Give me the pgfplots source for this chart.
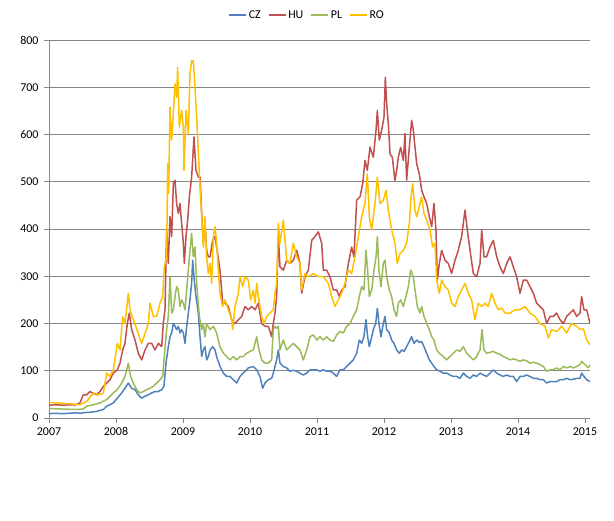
\documentclass[border=0pt]{standalone}
\usepackage{fontspec}
\setmainfont{Carlito}
\usepackage{pgfplots}
\pgfplotsset{compat=1.18}
\definecolor{cz}{HTML}{4F81BD}
\definecolor{hu}{HTML}{C0504D}
\definecolor{pl}{HTML}{9BBB59}
\definecolor{ro}{HTML}{FFC000}
\definecolor{gridc}{HTML}{868686}
\begin{document}
\begin{tikzpicture}
\path[use as bounding box] (0,0) rectangle (614bp,521bp);
\begin{axis}[
  at={(49bp,103bp)}, anchor=south west,
  scale only axis, width=541bp, height=378bp,
  xmin=2007, xmax=2015.075, ymin=0, ymax=800,
  axis x line*=bottom, axis y line*=left,
  axis line style={gridc, line width=0.8bp},
  xtick={2007,2008,...,2015}, ytick={0,100,...,800},
  tick align=outside, major tick length=5bp,
  tick style={gridc, line width=0.8bp},
  ymajorgrids, grid style={gridc, line width=0.8bp},
  /pgf/number format/1000 sep={},
  /pgf/number format/assume math mode=true,
  tick label style={font=\fontsize{12}{14}\selectfont},
  xticklabel style={yshift=-1bp},
  yticklabel style={xshift=-2bp},
  every axis plot/.append style={line width=1.5bp, line join=round},
  legend columns=4,
  legend style={at={(0.477,1.066)}, anchor=center, draw=none, fill=none,
    font=\fontsize{12}{14}\selectfont, inner sep=1bp,
    /tikz/every even column/.append style={column sep=5bp}},
  legend image code/.code={\draw[#1] (0bp,0bp) -- (17bp,0bp);},
]
\addplot[cz] coordinates {
(2007.000,9) (2007.100,10) (2007.200,9) (2007.300,10) (2007.400,11) (2007.463,10)
(2007.562,12) (2007.612,12) (2007.711,14) (2007.811,18) (2007.861,25) (2007.910,28)
(2007.960,32) (2008.020,42) (2008.085,53) (2008.134,63) (2008.184,74) (2008.234,63)
(2008.284,60) (2008.333,49) (2008.383,42) (2008.433,46) (2008.483,49) (2008.532,53)
(2008.582,56) (2008.632,56) (2008.682,60) (2008.716,67) (2008.746,116) (2008.781,151)
(2008.806,172) (2008.831,180) (2008.856,200) (2008.881,194) (2008.905,187) (2008.930,194)
(2008.955,180) (2008.980,187) (2009.005,180) (2009.030,158) (2009.055,194) (2009.080,222)
(2009.104,250) (2009.129,285) (2009.144,334) (2009.164,299) (2009.194,257) (2009.229,222)
(2009.254,172) (2009.279,130) (2009.303,144) (2009.328,151) (2009.353,123) (2009.378,130)
(2009.403,144) (2009.443,151) (2009.478,144) (2009.502,130) (2009.552,109) (2009.602,95)
(2009.652,88) (2009.701,88) (2009.751,81) (2009.801,74) (2009.851,88) (2009.900,95)
(2009.950,102) (2009.975,106) (2010.050,109) (2010.100,102) (2010.149,88) (2010.189,63)
(2010.224,74) (2010.274,81) (2010.323,84) (2010.348,95) (2010.373,109) (2010.398,123)
(2010.423,144) (2010.448,116) (2010.498,109) (2010.547,106) (2010.597,99) (2010.647,101)
(2010.697,99) (2010.746,95) (2010.796,91) (2010.846,95) (2010.896,102) (2010.945,102)
(2010.995,102) (2011.045,99) (2011.095,102) (2011.144,99) (2011.194,99) (2011.244,95)
(2011.294,88) (2011.343,102) (2011.393,102) (2011.443,109) (2011.493,116) (2011.542,123)
(2011.592,137) (2011.632,165) (2011.667,158) (2011.701,172) (2011.731,208) (2011.756,172)
(2011.781,151) (2011.816,172) (2011.841,187) (2011.876,200) (2011.901,232) (2011.925,200)
(2011.955,172) (2011.990,200) (2012.015,215) (2012.040,187) (2012.080,180) (2012.114,165)
(2012.149,158) (2012.189,144) (2012.229,137) (2012.264,144) (2012.299,141) (2012.338,151)
(2012.378,162) (2012.413,172) (2012.448,158) (2012.488,165) (2012.527,160) (2012.562,162)
(2012.597,151) (2012.637,137) (2012.677,123) (2012.712,116) (2012.746,109) (2012.786,102)
(2012.836,99) (2012.886,95) (2012.935,95) (2012.985,91) (2013.035,88) (2013.085,88)
(2013.134,84) (2013.184,95) (2013.234,88) (2013.284,84) (2013.333,91) (2013.383,88)
(2013.433,95) (2013.483,91) (2013.532,88) (2013.582,95) (2013.632,102) (2013.682,95)
(2013.731,91) (2013.781,88) (2013.831,91) (2013.881,88) (2013.930,88) (2013.980,77)
(2014.030,88) (2014.080,88) (2014.129,91) (2014.179,88) (2014.229,84) (2014.279,84)
(2014.328,81) (2014.378,81) (2014.428,74) (2014.478,77) (2014.527,77) (2014.577,77)
(2014.627,81) (2014.677,81) (2014.726,84) (2014.776,81) (2014.826,82) (2014.876,84)
(2014.925,84) (2014.950,95) (2014.985,88) (2015.025,81) (2015.075,77)
};
\addlegendentry{CZ}
\addplot[hu] coordinates {
(2007.000,27) (2007.100,28) (2007.200,27) (2007.300,28) (2007.400,28) (2007.463,32)
(2007.512,49) (2007.562,49) (2007.612,56) (2007.662,52) (2007.711,49) (2007.761,56)
(2007.811,67) (2007.861,74) (2007.910,81) (2007.960,95) (2008.020,102) (2008.060,116)
(2008.100,144) (2008.134,158) (2008.169,200) (2008.199,222) (2008.234,187) (2008.284,165)
(2008.333,137) (2008.383,123) (2008.433,144) (2008.483,158) (2008.532,158) (2008.582,144)
(2008.632,158) (2008.682,151) (2008.706,200) (2008.731,229) (2008.756,398) (2008.781,327)
(2008.806,426) (2008.831,384) (2008.856,496) (2008.881,503) (2008.905,454) (2008.930,433)
(2008.955,454) (2008.980,412) (2009.005,370) (2009.020,327) (2009.045,384) (2009.070,419)
(2009.095,468) (2009.129,510) (2009.164,595) (2009.194,524) (2009.229,510) (2009.254,510)
(2009.279,433) (2009.303,370) (2009.328,412) (2009.353,355) (2009.378,341) (2009.403,341)
(2009.443,376) (2009.478,384) (2009.502,362) (2009.552,313) (2009.592,243) (2009.627,243)
(2009.677,236) (2009.726,208) (2009.776,200) (2009.826,208) (2009.876,215) (2009.925,236)
(2009.975,229) (2010.025,236) (2010.075,229) (2010.124,243) (2010.174,200) (2010.224,194)
(2010.274,194) (2010.323,172) (2010.348,200) (2010.373,222) (2010.398,257) (2010.423,384)
(2010.448,320) (2010.498,313) (2010.547,334) (2010.597,327) (2010.647,334) (2010.697,355)
(2010.746,327) (2010.771,264) (2010.821,299) (2010.871,313) (2010.921,376) (2010.970,384)
(2011.020,394) (2011.070,370) (2011.095,313) (2011.144,313) (2011.194,299) (2011.244,271)
(2011.294,271) (2011.333,257) (2011.368,271) (2011.418,278) (2011.468,327) (2011.517,362)
(2011.552,341) (2011.592,461) (2011.642,468) (2011.682,496) (2011.716,545) (2011.751,524)
(2011.791,573) (2011.841,552) (2011.881,609) (2011.901,651) (2011.930,588) (2011.965,609)
(2012.000,637) (2012.020,721) (2012.040,665) (2012.065,623) (2012.090,559) (2012.124,552)
(2012.164,503) (2012.189,524) (2012.214,552) (2012.249,573) (2012.289,545) (2012.313,602)
(2012.338,503) (2012.378,573) (2012.413,630) (2012.438,609) (2012.463,573) (2012.488,538)
(2012.527,517) (2012.562,482) (2012.597,468) (2012.637,454) (2012.677,426) (2012.712,405)
(2012.746,454) (2012.776,398) (2012.796,292) (2012.826,327) (2012.861,355) (2012.910,334)
(2012.960,327) (2013.010,306) (2013.060,334) (2013.109,355) (2013.159,384) (2013.209,440)
(2013.244,398) (2013.284,355) (2013.333,306) (2013.383,299) (2013.433,327) (2013.458,398)
(2013.493,341) (2013.532,341) (2013.582,362) (2013.632,376) (2013.682,341) (2013.731,320)
(2013.781,306) (2013.831,327) (2013.881,341) (2013.930,320) (2013.980,299) (2014.030,264)
(2014.080,292) (2014.129,292) (2014.179,278) (2014.229,264) (2014.279,243) (2014.328,236)
(2014.378,229) (2014.428,200) (2014.478,215) (2014.527,215) (2014.577,222) (2014.627,208)
(2014.677,200) (2014.726,215) (2014.776,222) (2014.826,229) (2014.876,215) (2014.925,222)
(2014.950,257) (2014.985,229) (2015.025,229) (2015.050,215) (2015.075,200)
};
\addlegendentry{HU}
\addplot[pl] coordinates {
(2007.000,20) (2007.200,19) (2007.400,18) (2007.512,19) (2007.562,25) (2007.662,28)
(2007.761,32) (2007.861,39) (2007.910,46) (2007.960,53) (2008.020,60) (2008.085,74)
(2008.134,88) (2008.184,116) (2008.219,88) (2008.259,74) (2008.308,60) (2008.358,53)
(2008.408,56) (2008.458,60) (2008.507,63) (2008.557,67) (2008.607,74) (2008.657,81)
(2008.697,88) (2008.716,123) (2008.756,187) (2008.781,215) (2008.806,299) (2008.831,222)
(2008.856,229) (2008.881,257) (2008.905,278) (2008.930,271) (2008.955,236) (2008.980,250)
(2009.005,243) (2009.030,229) (2009.055,271) (2009.080,313) (2009.104,355) (2009.129,391)
(2009.154,341) (2009.179,362) (2009.204,285) (2009.244,215) (2009.279,187) (2009.303,200)
(2009.328,172) (2009.353,200) (2009.403,187) (2009.453,194) (2009.502,180) (2009.552,151)
(2009.602,137) (2009.652,130) (2009.701,123) (2009.751,130) (2009.801,123) (2009.851,130)
(2009.900,130) (2009.950,137) (2010.000,141) (2010.050,144) (2010.100,172) (2010.124,151)
(2010.174,123) (2010.224,116) (2010.274,116) (2010.323,123) (2010.348,187) (2010.373,194)
(2010.398,190) (2010.423,194) (2010.448,144) (2010.498,165) (2010.547,144) (2010.597,151)
(2010.647,158) (2010.697,151) (2010.746,144) (2010.796,123) (2010.846,144) (2010.896,172)
(2010.945,176) (2010.995,165) (2011.045,172) (2011.095,165) (2011.144,172) (2011.194,165)
(2011.244,162) (2011.294,176) (2011.343,183) (2011.393,180) (2011.443,194) (2011.493,200)
(2011.542,215) (2011.592,229) (2011.632,257) (2011.667,278) (2011.701,271) (2011.731,355)
(2011.756,313) (2011.781,257) (2011.816,271) (2011.851,313) (2011.881,341) (2011.901,384)
(2011.925,313) (2011.955,278) (2011.990,327) (2012.015,334) (2012.040,299) (2012.080,271)
(2012.114,257) (2012.149,229) (2012.189,215) (2012.214,243) (2012.249,250) (2012.289,236)
(2012.328,257) (2012.363,278) (2012.398,313) (2012.438,299) (2012.463,271) (2012.498,236)
(2012.537,222) (2012.562,236) (2012.597,215) (2012.637,200) (2012.677,187) (2012.712,172)
(2012.746,165) (2012.786,144) (2012.826,137) (2012.886,130) (2012.935,123) (2012.985,130)
(2013.035,137) (2013.085,144) (2013.134,141) (2013.184,151) (2013.234,137) (2013.284,130)
(2013.333,123) (2013.383,130) (2013.433,144) (2013.463,187) (2013.493,144) (2013.532,137)
(2013.582,139) (2013.632,141) (2013.682,137) (2013.731,135) (2013.781,130) (2013.831,127)
(2013.881,123) (2013.930,125) (2013.980,123) (2014.030,120) (2014.080,123) (2014.129,121)
(2014.179,116) (2014.229,118) (2014.279,116) (2014.328,113) (2014.378,109) (2014.428,99)
(2014.478,102) (2014.527,102) (2014.577,106) (2014.627,102) (2014.677,109) (2014.726,106)
(2014.776,109) (2014.826,106) (2014.876,109) (2014.925,113) (2014.950,120) (2015.000,113)
(2015.050,106) (2015.075,113)
};
\addlegendentry{PL}
\addplot[ro] coordinates {
(2007.000,33) (2007.200,31) (2007.400,29) (2007.463,28) (2007.562,35) (2007.662,53)
(2007.736,49) (2007.811,52) (2007.861,95) (2007.910,88) (2007.960,102) (2008.020,158)
(2008.060,144) (2008.100,215) (2008.134,200) (2008.184,264) (2008.209,229) (2008.259,208)
(2008.333,179) (2008.383,158) (2008.433,179) (2008.483,200) (2008.507,243) (2008.557,215)
(2008.607,215) (2008.657,243) (2008.697,257) (2008.721,320) (2008.756,341) (2008.771,538)
(2008.786,475) (2008.806,658) (2008.831,588) (2008.856,644) (2008.881,707) (2008.905,679)
(2008.920,742) (2008.945,616) (2008.980,651) (2009.005,616) (2009.015,524) (2009.045,651)
(2009.080,602) (2009.104,728) (2009.129,756) (2009.154,756) (2009.179,700) (2009.204,637)
(2009.244,517) (2009.279,426) (2009.303,362) (2009.328,426) (2009.353,341) (2009.378,306)
(2009.403,327) (2009.428,285) (2009.453,384) (2009.478,405) (2009.502,370) (2009.527,313)
(2009.552,264) (2009.592,236) (2009.627,250) (2009.677,229) (2009.726,208) (2009.741,187)
(2009.776,236) (2009.826,264) (2009.851,299) (2009.891,278) (2009.925,299) (2009.975,292)
(2010.010,250) (2010.050,271) (2010.075,243) (2010.100,285) (2010.124,257) (2010.174,215)
(2010.209,200) (2010.249,215) (2010.299,222) (2010.348,229) (2010.373,264) (2010.398,285)
(2010.423,412) (2010.448,370) (2010.498,419) (2010.547,334) (2010.597,327) (2010.647,370)
(2010.697,341) (2010.746,327) (2010.771,271) (2010.821,306) (2010.871,299) (2010.945,306)
(2011.020,299) (2011.095,299) (2011.169,285) (2011.219,257) (2011.269,236) (2011.318,250)
(2011.368,264) (2011.418,285) (2011.468,313) (2011.517,306) (2011.567,341) (2011.617,384)
(2011.667,426) (2011.716,454) (2011.751,517) (2011.781,426) (2011.816,398) (2011.866,454)
(2011.901,510) (2011.940,454) (2011.990,461) (2012.030,482) (2012.065,440) (2012.114,398)
(2012.164,370) (2012.199,327) (2012.239,348) (2012.289,355) (2012.338,370) (2012.378,412)
(2012.403,468) (2012.428,496) (2012.463,440) (2012.488,426) (2012.527,447) (2012.562,468)
(2012.597,433) (2012.637,419) (2012.687,398) (2012.726,362) (2012.761,370) (2012.786,292)
(2012.826,264) (2012.861,292) (2012.910,278) (2012.960,271) (2013.010,243) (2013.060,236)
(2013.109,257) (2013.159,271) (2013.209,285) (2013.259,264) (2013.308,250) (2013.358,208)
(2013.408,243) (2013.458,236) (2013.507,243) (2013.557,236) (2013.607,264) (2013.657,243)
(2013.706,229) (2013.756,233) (2013.806,222) (2013.881,222) (2013.955,229) (2014.030,229)
(2014.104,236) (2014.179,222) (2014.254,215) (2014.328,200) (2014.403,194) (2014.453,169)
(2014.502,187) (2014.577,183) (2014.652,194) (2014.726,180) (2014.801,200) (2014.876,194)
(2014.925,187) (2014.975,189) (2015.025,165) (2015.075,155)
};
\addlegendentry{RO}
\end{axis}
\end{tikzpicture}
\end{document}
